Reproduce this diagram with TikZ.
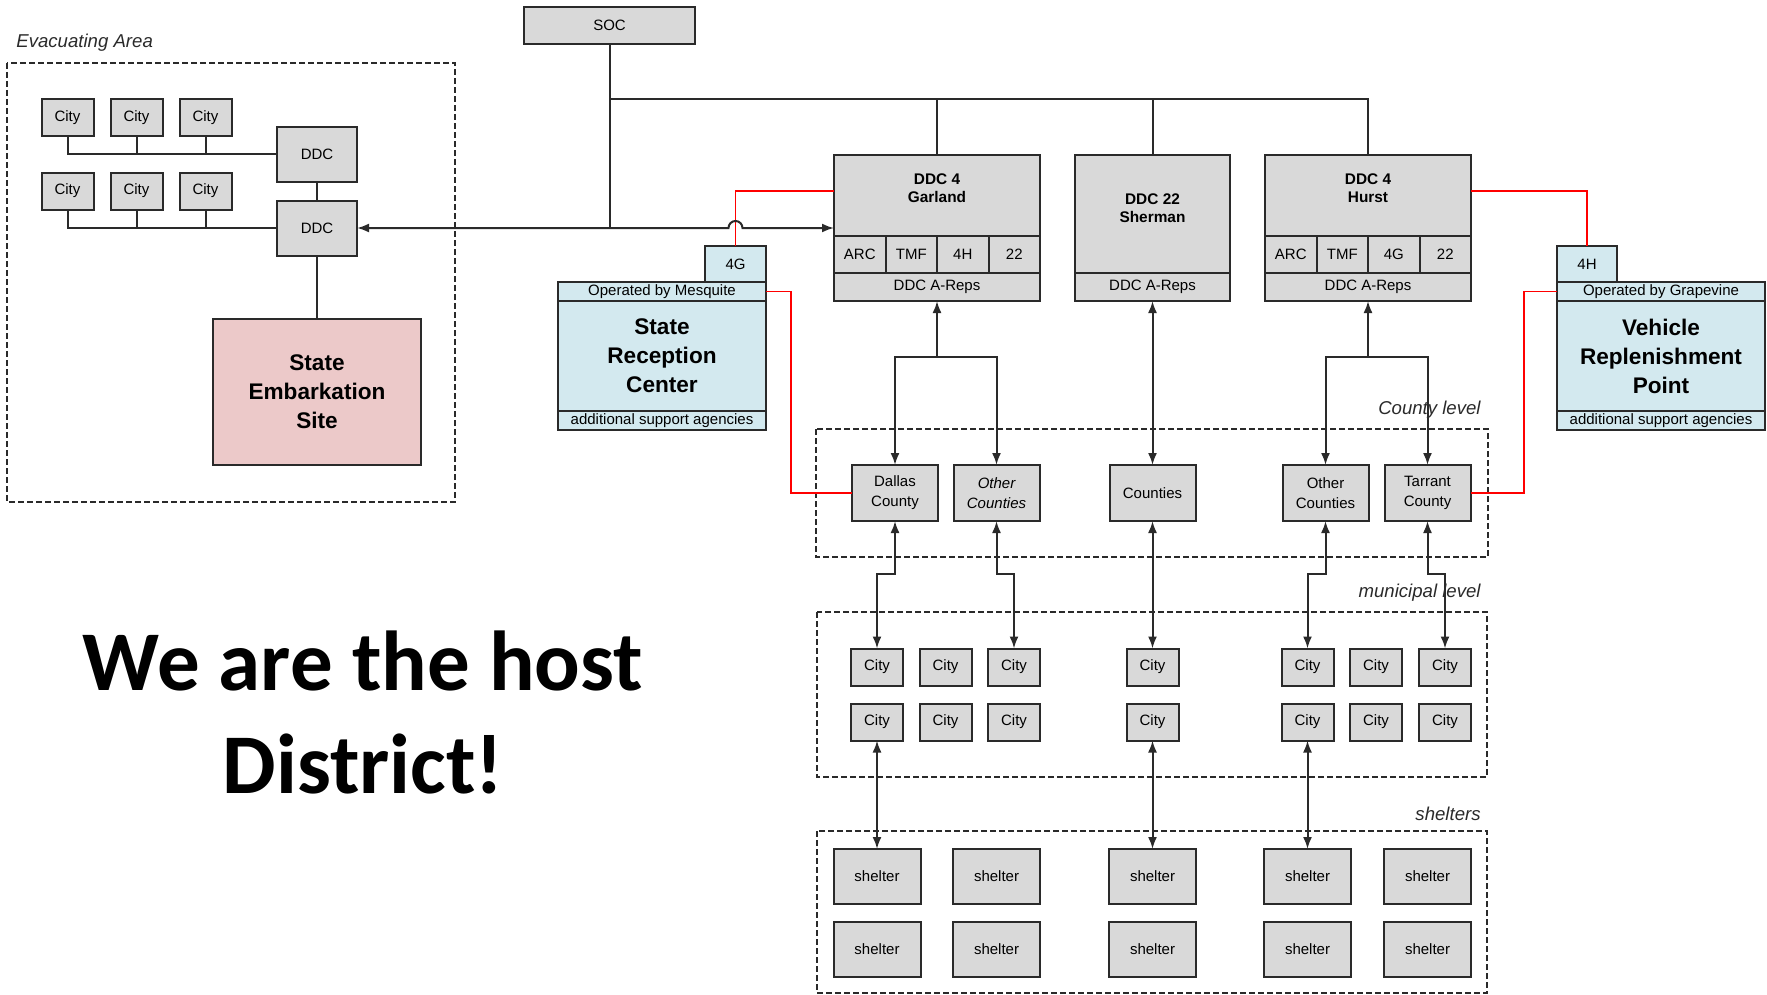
\documentclass[tikz,border=0pt]{standalone}
\usepackage{fontspec}
\setmainfont{Liberation Sans}
\newfontfamily\hostfont{Carlito}
\usetikzlibrary{positioning,arrows.meta}

\definecolor{boxgray}{HTML}{D9D9D9}
\definecolor{recblue}{HTML}{D3E9EF}
\definecolor{embpink}{HTML}{ECC9C9}
\definecolor{linegray}{HTML}{2A2A2A}

\begin{document}
\begin{tikzpicture}[x=0.5pt, y=-0.5pt, >={Latex[length=6pt,width=4.5pt]},
    gbox/.style={draw=linegray, line width=1pt, fill=boxgray, inner sep=0pt, outer sep=0pt,
        align=center, font=\fontsize{7.5}{10}\selectfont},
    city/.style={gbox, minimum width=26pt, minimum height=18.5pt},
    county/.style={gbox, minimum width=43pt, minimum height=28pt},
    shelter/.style={gbox, minimum width=43.5pt, minimum height=27.5pt},
    cell/.style={gbox, minimum width=25.75pt, minimum height=18.5pt},
    ddcbox/.style={gbox, minimum width=103pt, minimum height=73pt},
    ddcname/.style={align=center, font=\fontsize{7.7}{9}\selectfont\bfseries, inner sep=0pt},
    sitebox/.style={gbox, fill=recblue, minimum width=104pt},
    bigname/.style={font=\fontsize{11.3}{14.5}\selectfont\bfseries},
    areaframe/.style={draw=linegray, line width=0.7pt, dash pattern=on 3pt off 1.5pt},
    grouplabel/.style={font=\fontsize{9.3}{11}\selectfont\itshape, text=linegray, inner sep=0pt},
    conn/.style={draw=linegray, line width=1pt},
    redline/.style={draw=red, line width=0.8pt},
    host/.style={font=\hostfont\bfseries\fontsize{42.5}{50}\selectfont, inner sep=0pt}
]
\useasboundingbox (0,0) rectangle (1767,995);

% evacuating area
\draw[areaframe] (7,63) rectangle (455,502);
\node[grouplabel, anchor=west] (evac-lbl) at (16,43) {Evacuating Area};
\node[gbox, minimum width=40pt, minimum height=27.5pt] (ddc-a) at (317,154.5) {DDC};
\node[gbox, minimum width=40pt, minimum height=27.5pt] (ddc-b) at (317,228) {DDC};
\foreach \x [count=\i] in {67.5,136.5,205.5} {
    \node[city] (ea-a\i) at (\x,117.5) {City};
    \node[city] (ea-b\i) at (\x,191) {City};
    \draw[conn] (ea-a\i.south) |- (ddc-a.west);
    \draw[conn] (ea-b\i.south) |- (ddc-b.west);
}
\node[gbox, fill=embpink, minimum width=104pt, minimum height=73pt, bigname] (ses) at (317,392) {State\\Embarkation\\Site};
\draw[conn] (ddc-a) -- (ddc-b);
\draw[conn] (ddc-b) -- (ses);

% state level
\node[gbox, minimum width=85.5pt, minimum height=18.5pt] (soc) at (609.5,25.5) {SOC};

\foreach \nm/\cx/\ct/\tg in {garland/937/Garland/4H, hurst/1368/Hurst/4G} {
    \node[ddcbox] (\nm) at (\cx,228) {};
    \node[ddcname] (\nm-name) at (\cx,188) {DDC 4\\\ct};
    \node[gbox, minimum width=103pt, minimum height=14pt, anchor=south] (\nm-reps) at (\nm.south) {DDC A-Reps};
    \node[cell, anchor=south west] (\nm-arc) at (\nm-reps.north west) {ARC};
    \node[cell, right=0pt of \nm-arc] (\nm-tmf) {TMF};
    \node[cell, right=0pt of \nm-tmf] (\nm-tag) {\tg};
    \node[cell, right=0pt of \nm-tag] (\nm-22) {22};
}
\node[gbox, minimum width=77.5pt, minimum height=73pt] (sherman) at (1152.5,228) {};
\node[ddcname] (sherman-name) at (1152.5,208) {DDC 22\\Sherman};
\node[gbox, minimum width=77.5pt, minimum height=14pt, anchor=south] (sherman-reps) at (sherman.south) {DDC A-Reps};

\coordinate (bus) at (609.5,99);
\draw[conn] (soc.south) -- (soc.south |- ddc-b.east);
\draw[conn] (bus) -| (hurst.north);
\draw[conn] (garland.north) -- (garland.north |- bus);
\draw[conn] (sherman.north) -- (sherman.north |- bus);

% reception center and replenishment point
\node[sitebox, minimum height=9.5pt] (src-op) at (662,291.5) {Operated by Mesquite};
\node[sitebox, minimum height=55pt, bigname, below=0pt of src-op] (src) {State\\Reception\\Center};
\node[sitebox, minimum height=9.5pt, below=0pt of src] (src-add) {additional support agencies};
\node[sitebox, minimum width=30.5pt, minimum height=18pt, anchor=south east] (src-tab) at (src-op.north east) {4G};

\node[sitebox, minimum height=9.5pt] (vrp-op) at (1661,291.5) {Operated by Grapevine};
\node[sitebox, minimum height=55pt, bigname, below=0pt of vrp-op] (vrp) {Vehicle\\Replenishment\\Point};
\node[sitebox, minimum height=9.5pt, below=0pt of vrp] (vrp-add) {additional support agencies};
\node[sitebox, minimum width=30pt, minimum height=18pt, anchor=south west] (vrp-tab) at (vrp-op.north west) {4H};

\draw[redline] (src-tab.north) |- ([yshift=-18pt]garland.north west);
\draw[conn, <->] (ddc-b.east) -- (728.5,228) arc[start angle=180, end angle=0, radius=3.5pt] -- (garland.west);
\draw[redline] ([yshift=-18pt]hurst.north east) -| (vrp-tab.north);

% county level
\draw[areaframe] (816,429) rectangle (1488,557);
\node[grouplabel, anchor=east] (county-lbl) at (1481,410) {County level};
\node[county] (dallas) at (895,493) {Dallas\\County};
\node[county, font=\fontsize{7.5}{10}\selectfont\itshape] (others-a) at (996.5,493) {Other\\Counties};
\node[county] (counties) at (1152.5,493) {Counties};
\node[county] (others-b) at (1325.5,493) {Other\\Counties};
\node[county] (tarrant) at (1427.5,493) {Tarrant\\County};

\draw[redline] (src-op.east) -- ++(25,0) |- (dallas.west);
\draw[redline] (vrp-op.west) -- ++(-33,0) |- (tarrant.east);

\coordinate (garland-split) at (937,357);
\draw[conn, ->] (garland-split) -- (garland.south);
\draw[conn, ->] (garland-split) -| (dallas.north);
\draw[conn, ->] (garland-split) -| (others-a.north);
\draw[conn, <->] (sherman.south) -- (counties.north);
\coordinate (hurst-split) at (1368,357);
\draw[conn, ->] (hurst-split) -- (hurst.south);
\draw[conn, ->] (hurst-split) -| (others-b.north);
\draw[conn, ->] (hurst-split) -| (tarrant.north);

% municipal level
\draw[areaframe] (817,612) rectangle (1487,777);
\node[grouplabel, anchor=east] (muni-lbl) at (1481,593) {municipal level};
\foreach \x [count=\i] in {877,945.5,1014,1152.5,1307.5,1376,1445} {
    \node[city] (mc-a\i) at (\x,667) {City};
    \node[city] (mc-b\i) at (\x,722) {City};
}
\draw[conn, <->] (dallas.south) -- ++(0,53) -| (mc-a1.north);
\draw[conn, <->] (others-a.south) -- ++(0,53) -| (mc-a3.north);
\draw[conn, <->] (counties.south) -- (mc-a4.north);
\draw[conn, <->] (others-b.south) -- ++(0,53) -| (mc-a5.north);
\draw[conn, <->] (tarrant.south) -- ++(0,53) -| (mc-a7.north);

% shelters
\draw[areaframe] (817,831) rectangle (1487,993);
\node[grouplabel, anchor=east] (shel-lbl) at (1481,814) {shelters};
\foreach \x [count=\i] in {877,996.5,1152.5,1307.5,1427.5} {
    \node[shelter] (sh-a\i) at (\x,876.5) {shelter};
    \node[shelter] (sh-b\i) at (\x,949.5) {shelter};
}
\draw[conn, <->] (mc-b1.south) -- (sh-a1.north);
\draw[conn, <->] (mc-b4.south) -- (sh-a3.north);
\draw[conn, <->] (mc-b5.south) -- (sh-a4.north);

\node[host, anchor=base] (host-a) at (363,690) {We are the host};
\node[host, anchor=base] (host-b) at (363,793) {District!};
\end{tikzpicture}
\end{document}
